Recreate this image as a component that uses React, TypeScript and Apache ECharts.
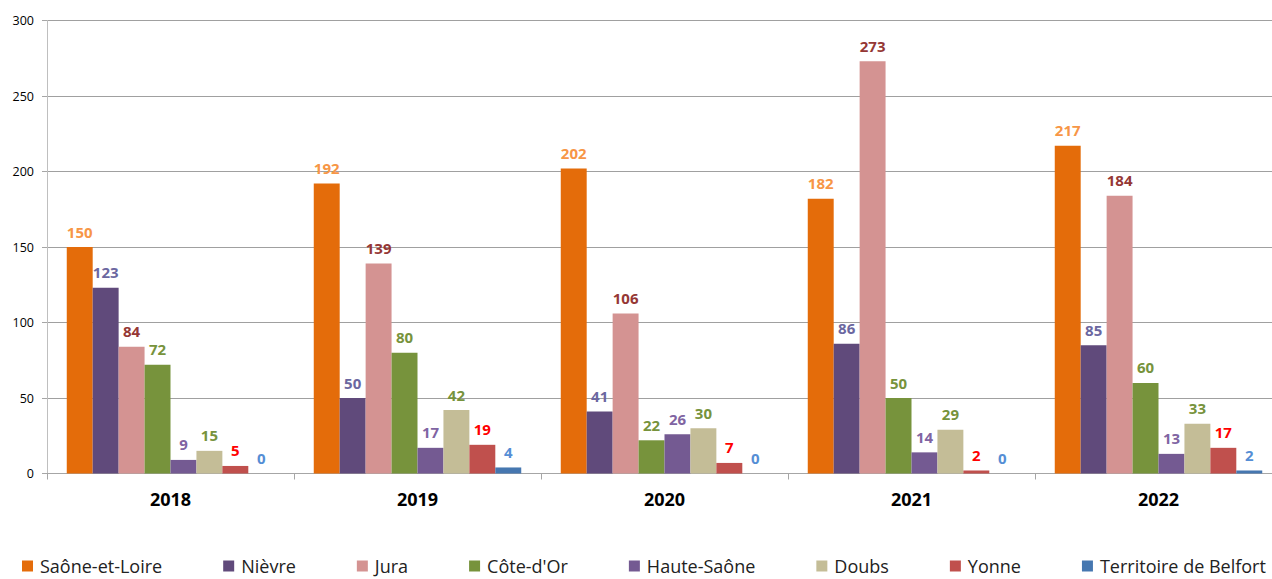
import React, { useEffect, useRef } from "react";
import * as echarts from "echarts";

const years = ["2018", "2019", "2020", "2021", "2022"];
const seriesNames = ["Saône-et-Loire", "Nièvre", "Jura", "Côte-d'Or", "Haute-Saône", "Doubs", "Yonne", "Territoire de Belfort"];
const saoneEtLoire = [150, 192, 202, 182, 217];
const nievre = [123, 50, 41, 86, 85];
const jura = [84, 139, 106, 273, 184];
const coteDOr = [72, 80, 22, 50, 60];
const hauteSaone = [9, 17, 26, 14, 13];
const doubs = [15, 42, 30, 29, 33];
const yonne = [5, 19, 7, 2, 17];
const belfort = [0, 4, 0, 0, 2];
const yTicks = [0, 50, 100, 150, 200, 250, 300];

const values = [saoneEtLoire, nievre, jura, coteDOr, hauteSaone, doubs, yonne, belfort];
const barColors = ["#E46C0A", "#604A7B", "#D49392", "#77933C", "#745A92", "#C4BD97", "#C0504D", "#4677B0"];
const labelColors = ["#F79646", "#6B67A0", "#953735", "#77933C", "#8064A2", "#77933C", "#FF0000", "#558ED5"];

const FONT = "'Open Sans', sans-serif";

export default function App() {
  const ref = useRef<HTMLDivElement>(null);
  useEffect(() => {
    if (!ref.current) return;
    const chart = echarts.init(ref.current, undefined, { renderer: "svg" });
    chart.setOption({
      animation: false,
      backgroundColor: "#ffffff",
      textStyle: { fontFamily: FONT },
      grid: { left: 47, right: 0, top: 20.5, height: 453, containLabel: false, outerBoundsMode: "none" },
      legend: {
        left: 17,
        top: 552,
        itemWidth: 11,
        itemHeight: 11,
        itemGap: 61,
        icon: "rect",
        data: seriesNames,
        textStyle: { fontFamily: FONT, fontSize: 18, color: "#222", lineHeight: 18, padding: [0, 0, 0, 2] },
      },
      xAxis: {
        type: "category",
        data: years,
        axisLine: { lineStyle: { color: "#A6A6A6", width: 1 } },
        axisTick: { show: true, length: 6, lineStyle: { color: "#A6A6A6" } },
        axisLabel: { fontFamily: FONT, fontSize: 18, fontWeight: "bold", color: "#000", margin: 16 },
      },
      yAxis: {
        type: "value",
        min: yTicks[0],
        max: yTicks[yTicks.length - 1],
        interval: yTicks[1] - yTicks[0],
        axisLine: { show: true, lineStyle: { color: "#BFBFBF", width: 1 } },
        axisTick: { show: true, length: 5, lineStyle: { color: "#A6A6A6" } },
        axisLabel: { fontFamily: FONT, fontSize: 12.5, color: "#000", margin: 13 },
        splitLine: { lineStyle: { color: "#A0A0A0", width: 1 } },
      },
      series: seriesNames.map((name, i) => ({
        name,
        type: "bar",
        data: values[i],
        barGap: "0%",
        barCategoryGap: "16%",
        itemStyle: { color: barColors[i] },
        label: {
          show: true,
          position: "top",
          distance: 8,
          fontFamily: FONT,
          fontSize: 15,
          fontWeight: "bold",
          color: labelColors[i],
        },
      })),
    });
    return () => chart.dispose();
  }, []);
  return (
    <div style={{ position: "fixed", left: 0, top: 0, width: 1272, height: 579, overflow: "hidden", background: "#fff" }}>
      <div ref={ref} style={{ width: 1282, height: 579 }} />
    </div>
  );
}
